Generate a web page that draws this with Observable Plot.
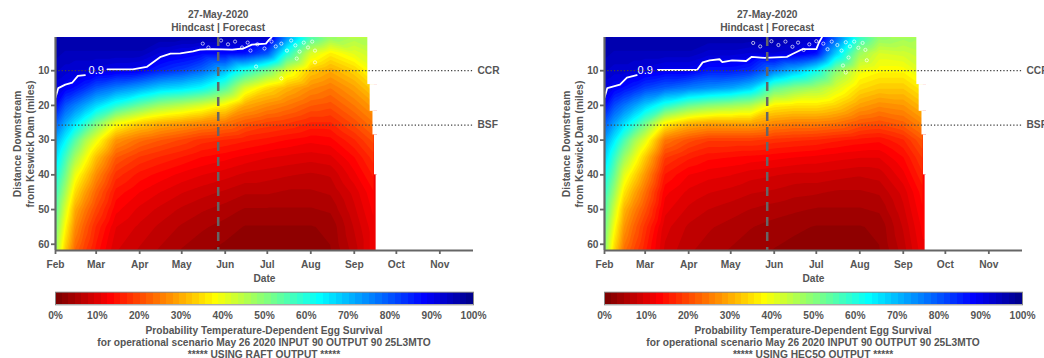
<!DOCTYPE html>
<html><head><meta charset="utf-8">
<script src="https://cdn.jsdelivr.net/npm/d3@7"></script>
<script src="https://cdn.jsdelivr.net/npm/@observablehq/plot@0.6"></script>
<style>
html,body{margin:0;padding:0;background:#fff;width:1044px;height:358px;overflow:hidden;}
body{position:relative;font-family:"Liberation Sans",Arial,Helvetica,sans-serif;}
.panel{position:absolute;top:0;width:540px;height:358px;}
.panel svg{position:absolute;left:0;overflow:visible;}
.cap{position:absolute;left:0;width:528px;text-align:center;font-weight:bold;font-size:10.2px;color:#555;white-space:nowrap;line-height:12px;}
</style></head><body>
<div id="left" class="panel" style="left:0"></div>
<div id="right" class="panel" style="left:549px"></div>
<script>
// ---------------- data ----------------
const sampleDates = ["2020-02-01","2020-02-08","2020-02-15","2020-02-22","2020-03-01","2020-03-15","2020-04-01","2020-04-15","2020-05-01","2020-05-15","2020-06-01","2020-06-15","2020-07-01","2020-07-15","2020-08-01","2020-08-15","2020-09-01","2020-09-15"];
const distances = [0, 5, 10, 15, 20, 25, 30, 35, 40, 45, 50, 55, 62];

// probability of survival, one row per sample date, one value per distance
const raftGrid = [
  [0.97,0.96,0.94,0.91,0.88,0.80,0.72,0.67,0.62,0.58,0.55,0.52,0.48],
  [0.97,0.95,0.93,0.89,0.80,0.72,0.64,0.57,0.52,0.47,0.42,0.38,0.33],
  [0.97,0.95,0.92,0.87,0.76,0.66,0.55,0.47,0.40,0.35,0.30,0.27,0.23],
  [0.97,0.95,0.92,0.84,0.72,0.60,0.47,0.40,0.34,0.29,0.25,0.22,0.19],
  [0.97,0.95,0.91,0.80,0.67,0.52,0.40,0.32,0.27,0.23,0.20,0.17,0.15],
  [0.97,0.95,0.90,0.76,0.60,0.40,0.28,0.22,0.18,0.15,0.13,0.11,0.095],
  [0.97,0.95,0.89,0.72,0.53,0.34,0.24,0.185,0.15,0.125,0.105,0.09,0.075],
  [0.97,0.92,0.85,0.68,0.48,0.31,0.22,0.17,0.135,0.11,0.09,0.075,0.06],
  [0.97,0.90,0.82,0.66,0.45,0.29,0.20,0.155,0.12,0.095,0.075,0.06,0.045],
  [0.97,0.88,0.78,0.63,0.42,0.27,0.18,0.14,0.11,0.085,0.065,0.05,0.035],
  [0.97,0.88,0.70,0.55,0.37,0.25,0.17,0.13,0.10,0.075,0.055,0.04,0.025],
  [0.965,0.87,0.60,0.42,0.30,0.22,0.16,0.12,0.09,0.065,0.045,0.03,0.02],
  [0.96,0.80,0.52,0.35,0.27,0.20,0.15,0.11,0.085,0.065,0.045,0.03,0.02],
  [0.76,0.60,0.42,0.31,0.25,0.19,0.14,0.105,0.08,0.06,0.045,0.03,0.02],
  [0.58,0.42,0.33,0.27,0.22,0.17,0.13,0.10,0.075,0.06,0.045,0.03,0.02],
  [0.50,0.37,0.30,0.25,0.21,0.17,0.135,0.105,0.08,0.065,0.05,0.035,0.03],
  [0.47,0.41,0.34,0.29,0.25,0.21,0.17,0.14,0.12,0.10,0.09,0.08,0.07],
  [0.46,0.44,0.40,0.34,0.29,0.25,0.21,0.18,0.16,0.14,0.13,0.12,0.12]
];
const hec5qGrid = [
  [0.97,0.96,0.94,0.91,0.88,0.80,0.73,0.68,0.63,0.59,0.56,0.53,0.50],
  [0.97,0.95,0.93,0.89,0.81,0.73,0.65,0.58,0.53,0.48,0.43,0.39,0.34],
  [0.97,0.95,0.93,0.87,0.77,0.67,0.56,0.48,0.41,0.36,0.31,0.28,0.24],
  [0.97,0.95,0.92,0.85,0.73,0.61,0.48,0.41,0.35,0.30,0.26,0.23,0.20],
  [0.97,0.95,0.91,0.82,0.68,0.53,0.41,0.33,0.28,0.24,0.21,0.18,0.16],
  [0.97,0.95,0.895,0.79,0.60,0.38,0.25,0.19,0.155,0.13,0.115,0.10,0.09],
  [0.97,0.95,0.895,0.76,0.53,0.32,0.21,0.16,0.125,0.105,0.09,0.075,0.065],
  [0.97,0.93,0.86,0.74,0.50,0.30,0.19,0.145,0.115,0.095,0.078,0.065,0.055],
  [0.97,0.93,0.86,0.72,0.48,0.30,0.19,0.14,0.11,0.088,0.07,0.056,0.045],
  [0.97,0.92,0.84,0.68,0.46,0.30,0.19,0.135,0.10,0.08,0.062,0.048,0.036],
  [0.97,0.92,0.76,0.54,0.37,0.27,0.18,0.13,0.095,0.075,0.055,0.04,0.03],
  [0.96,0.91,0.70,0.50,0.36,0.26,0.175,0.125,0.09,0.068,0.05,0.035,0.025],
  [0.95,0.87,0.62,0.47,0.36,0.26,0.17,0.12,0.09,0.065,0.045,0.03,0.02],
  [0.80,0.68,0.50,0.42,0.34,0.25,0.16,0.115,0.085,0.06,0.045,0.03,0.02],
  [0.60,0.48,0.40,0.35,0.29,0.22,0.15,0.11,0.08,0.06,0.045,0.03,0.02],
  [0.50,0.42,0.38,0.33,0.27,0.21,0.145,0.11,0.085,0.065,0.05,0.035,0.03],
  [0.48,0.43,0.38,0.33,0.28,0.23,0.17,0.14,0.12,0.10,0.09,0.08,0.07],
  [0.47,0.45,0.42,0.37,0.32,0.27,0.22,0.19,0.17,0.15,0.14,0.13,0.12]
];

// 0.9 probability contour (date, distance); null = gap for the label
const raftLineDates = ["2020-02-01","2020-02-03","2020-02-08","2020-02-13","2020-02-17","2020-02-22","2020-02-26","2020-03-09","2020-03-27","2020-04-06","2020-04-16","2020-04-23","2020-04-30","2020-05-09","2020-05-14","2020-05-23","2020-06-06","2020-06-14","2020-06-20","2020-06-30","2020-07-02","2020-07-04"];
const raftLineDist  = [17.7,15,14,13.4,11.5,11.3,null,9.6,9.6,8.9,6,5.1,5,4.4,3.9,3.8,3.9,3.6,2.5,2.2,1.2,0.4];
const hec5qLineDates = ["2020-02-01","2020-02-03","2020-02-12","2020-02-17","2020-02-24","2020-02-26","2020-03-10","2020-04-07","2020-04-11","2020-04-16","2020-04-23","2020-04-25","2020-05-02","2020-05-12","2020-05-16","2020-05-25","2020-06-10","2020-06-14","2020-06-21","2020-07-01","2020-07-03","2020-07-05"];
const hec5qLineDist  = [17.7,15,14,12,11.3,null,9.8,9.8,7.6,7,6.7,7.5,7,7.2,6,6.3,6,5.2,3.8,3.8,1.8,0.4];
const lineLabel = {date: "2020-03-01", d: 10, text: "0.9"};

// small scattered 0.9 loops near the top (date, distance)
const raftSpeckDates = ["2020-05-16","2020-05-20","2020-05-29","2020-06-03","2020-06-08","2020-06-13","2020-06-17","2020-06-19","2020-06-24","2020-06-29","2020-07-04","2020-07-07","2020-07-11","2020-07-15","2020-07-18","2020-07-21","2020-07-24","2020-07-27","2020-07-30","2020-08-02","2020-08-04","2020-07-22","2020-06-23","2020-07-11","2020-08-04"];
const raftSpeckDist  = [2.2,3.3,1.3,2.4,1.6,3.3,1.9,4.2,2.4,3.6,1.6,3.0,2.2,4.2,1.3,2.7,4.5,1.9,3.3,1.6,4.2,6.5,8.8,12.2,7.6];
const hec5qSpeckDates = ["2020-05-17","2020-05-22","2020-05-30","2020-06-04","2020-06-09","2020-06-14","2020-06-18","2020-06-22","2020-06-26","2020-07-01","2020-07-06","2020-07-09","2020-07-12","2020-07-16","2020-07-19","2020-07-22","2020-07-25","2020-07-28","2020-07-31","2020-08-03","2020-08-05","2020-07-24","2020-07-20","2020-07-22","2020-08-06"];
const hec5qSpeckDist  = [2.0,3.0,1.5,2.6,1.6,3.1,1.9,4.0,2.4,1.5,2.2,3.8,1.6,2.6,4.2,1.8,3.0,1.6,3.4,2.0,4.0,6.2,8.5,10.5,7.0];

// last date with model output, per distance band
const bandTop = [0, 14, 21.7, 28.5, 40];
const bandBottom = [14, 21.7, 28.5, 40, 62];
const bandEnd = ["2020-09-10T16:00", "2020-09-12T08:00", "2020-09-14T08:00", "2020-09-15T10:00", "2020-09-16T14:00"];

const monthTicks = ["2020-02-01","2020-03-01","2020-04-01","2020-05-01","2020-06-01","2020-07-01","2020-08-01","2020-09-01","2020-10-01","2020-11-01"];
const distTicks = [10, 20, 30, 40, 50, 60];
const refNames = ["CCR", "BSF"];
const refDist = [10, 25.7];
const hindcastDate = "2020-05-27";
const titleText = "27-May-2020";
const subtitleText = "Hindcast | Forecast";
const pctTicks = [0, 0.1, 0.2, 0.3, 0.4, 0.5, 0.6, 0.7, 0.8, 0.9, 1];
const captions = {
  left: ["Probability Temperature-Dependent Egg Survival", "for operational scenario May 26 2020 INPUT 90 OUTPUT 90 25L3MTO", "***** USING RAFT OUTPUT *****"],
  right: ["Probability Temperature-Dependent Egg Survival", "for operational scenario May 26 2020 INPUT 90 OUTPUT 90 25L3MTO", "***** USING HEC5Q OUTPUT *****"]
};

// ---------------- rendering ----------------
const parse = s => new Date(s.length > 10 ? s + "Z" : s + "T00:00Z");
const xStart = parse("2020-02-01");
const xEnd = parse("2020-11-25");
const gridEnd = parse("2020-09-17");
const maskEnd = parse("2020-09-25");
const yDomain = [0.43, 61.8];
const nLevels = 64;
const levels = d3.range(nLevels).map(i => i / nLevels);
const clamp = v => Math.max(0, Math.min(1, v));
function jetR(p) {
  const t = 1 - p;
  const r = clamp(1.5 - Math.abs(4 * t - 3));
  const g = clamp(1.5 - Math.abs(4 * t - 2));
  const b = clamp(1.5 - Math.abs(4 * t - 1));
  return d3.rgb(r * 255, g * 255, b * 255).toString();
}
const colorScale = {type: "linear", domain: [0, 1], interpolate: () => jetR};
const textColor = "#555";
const font = {fontFamily: "'Liberation Sans', Arial, Helvetica, sans-serif", fontSize: "10.2px", fontWeight: "bold", color: textColor, background: "transparent", overflow: "visible"};

function panel(el, grid, lineDates, lineDist, speckDates, speckDist, caps) {
  const points = [];
  sampleDates.forEach((ds, i) => distances.forEach((d, j) => points.push({date: parse(ds), d, p: grid[i][j]})));
  const lineData = lineDates.map((ds, i) => ({date: parse(ds), d: lineDist[i] == null ? NaN : lineDist[i]}));
  const specks = speckDates.map((ds, i) => ({date: parse(ds), d: speckDist[i]}));
  const masks = bandEnd.map((e, i) => ({end: parse(e), d1: bandTop[i], d2: bandBottom[i]}));
  const refs = refNames.map((n, i) => ({name: n, d: refDist[i]}));
  const hd = parse(hindcastDate);

  const main = Plot.plot({
    width: 520, height: 285,
    marginTop: 37, marginLeft: 55, marginRight: 47, marginBottom: 35,
    style: font,
    x: {type: "utc", domain: [xStart, xEnd]},
    y: {domain: yDomain, reverse: true},
    color: colorScale,
    marks: [
      Plot.contour(points, {x: "date", y: "d", fill: "p", interpolate: "barycentric", thresholds: levels,
        x1: xStart, x2: gridEnd, y1: yDomain[0], y2: yDomain[1], pixelSize: 1, clip: true}),
      Plot.rect(masks, {x1: "end", x2: () => maskEnd, y1: "d1", y2: "d2", fill: "white", clip: true}),
      Plot.dot(specks, {x: "date", y: "d", r: 1.6, stroke: "white", strokeWidth: 0.8, strokeOpacity: 0.85, fill: "none"}),
      Plot.line(lineData, {x: "date", y: "d", stroke: "white", strokeWidth: 1.8, clip: true}),
      Plot.text([lineLabel], {x: d => parse(d.date), y: "d", text: "text", fill: "white", fontWeight: "normal", fontSize: 11}),
      Plot.ruleY(refs, {y: "d", stroke: "#444", strokeWidth: 1.3, strokeDasharray: "1.3,2"}),
      Plot.text(refs, {y: "d", text: "name", frameAnchor: "right", textAnchor: "start", dx: 4, fill: textColor}),
      Plot.ruleX([hd], {stroke: "#666", strokeWidth: 2.5, strokeDasharray: "9,6"}),
      Plot.text([hd], {x: d => d, frameAnchor: "top", lineAnchor: "middle", dy: -23, text: () => titleText, fill: textColor}),
      Plot.text([hd], {x: d => d, frameAnchor: "top", lineAnchor: "middle", dy: -10, text: () => subtitleText, fill: textColor}),
      Plot.ruleX([xStart], {stroke: "#666", strokeWidth: 2.2}),
      Plot.ruleY([yDomain[1]], {stroke: "#666", strokeWidth: 2.2}),
      Plot.axisX(monthTicks.map(parse), {tickFormat: d3.utcFormat("%b"), tickSize: 4, tickPadding: 6, strokeWidth: 1.8, stroke: "#666", fill: textColor, label: null}),
      Plot.axisY(distTicks, {tickSize: 4, tickPadding: 2, strokeWidth: 1.8, stroke: "#666", fill: textColor, label: null}),
      Plot.text(["Date"], {frameAnchor: "bottom", lineAnchor: "middle", dy: 28, text: d => d, fill: textColor}),
      Plot.text(["Distance Downstream\nfrom Keswick Dam (miles)"], {frameAnchor: "left", textAnchor: "middle", lineAnchor: "middle", dx: -32.5, rotate: -90, text: d => d, lineHeight: 1.27, fill: textColor})
    ]
  });
  main.style.top = "0px";
  el.appendChild(main);

  const bar = Plot.plot({
    width: 520, height: 40,
    marginTop: 5.7, marginLeft: 55, marginRight: 47, marginBottom: 21.7,
    style: font,
    x: {domain: [0, 1]},
    y: {domain: [0, 1], axis: null},
    color: colorScale,
    marks: [
      Plot.rect(levels, {x1: d => d, x2: d => d + 1 / nLevels, y1: 0, y2: 1, fill: d => d, shapeRendering: "crispEdges"}),
      Plot.frame({stroke: "#888", strokeWidth: 1}),
      Plot.axisX(pctTicks, {tickFormat: d3.format(".0%"), tickSize: 0, tickPadding: 7, fill: textColor, label: null})
    ]
  });
  bar.style.top = "286px";
  el.appendChild(bar);

  caps.forEach((c, i) => {
    const div = document.createElement("div");
    div.className = "cap";
    div.style.top = (325 + 12 * i) + "px";
    div.textContent = c;
    el.appendChild(div);
  });
}

panel(document.getElementById("left"), raftGrid, raftLineDates, raftLineDist, raftSpeckDates, raftSpeckDist, captions.left);
panel(document.getElementById("right"), hec5qGrid, hec5qLineDates, hec5qLineDist, hec5qSpeckDates, hec5qSpeckDist, captions.right);
</script>
</body></html>
